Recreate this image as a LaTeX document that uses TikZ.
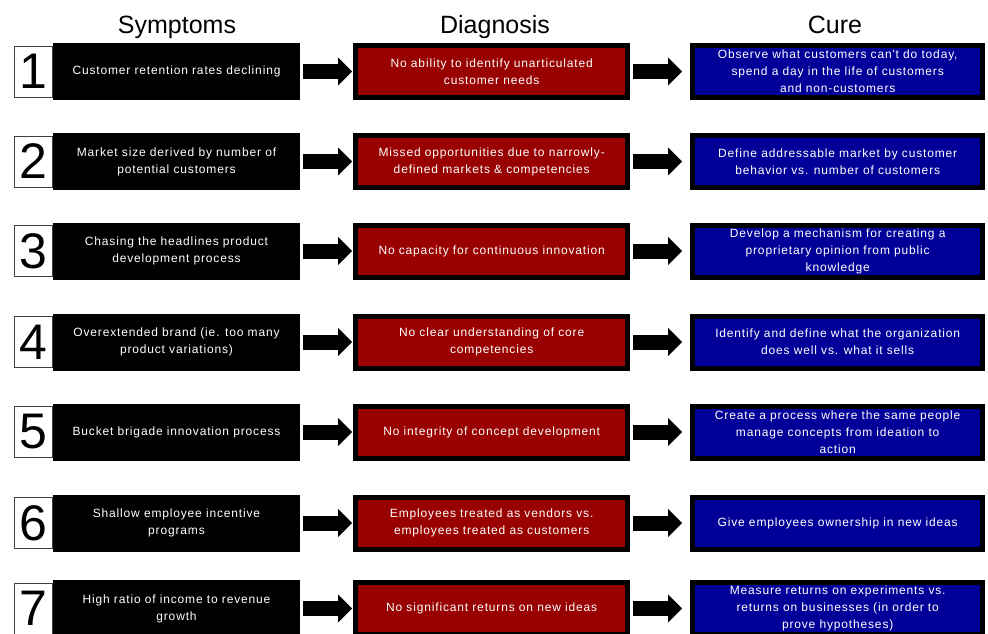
\documentclass[tikz,border=0pt]{standalone}
\usepackage{fontspec}
\setmainfont{Liberation Sans}
\newfontfamily\boxfont[LetterSpace=7]{Liberation Sans}
\usetikzlibrary{arrows.meta,positioning}
\definecolor{diared}{RGB}{153,0,0}
\definecolor{cureblue}{RGB}{0,0,153}
\tikzset{
  head/.style={anchor=base, font=\fontsize{25}{30}\selectfont},
  num/.style={draw=black!75, fill=white, line width=1pt, inner sep=0pt,
    minimum width=38pt, minimum height=51pt, font=\fontsize{50}{50}\selectfont},
  sympt/.style={fill=black, text=white, inner sep=0pt, align=center,
    minimum width=247pt, minimum height=57pt, font=\boxfont\fontsize{12}{17}\selectfont},
  diag/.style={draw=black, line width=5pt, fill=diared, text=white, inner sep=0pt,
    align=center, minimum width=272pt, minimum height=52pt, font=\boxfont\fontsize{12}{17}\selectfont},
  cure/.style={draw=black, line width=5pt, fill=cureblue, text=white, inner sep=0pt,
    align=center, minimum width=290pt, minimum height=52pt, font=\boxfont\fontsize{12}{17}\selectfont},
  go/.style={line width=15pt, -{Triangle[length=14pt,width=27pt]}, shorten <=3pt}
}
\begin{document}
\begin{tikzpicture}[x=1pt,y=-1pt]
\useasboundingbox (0,0) rectangle (988,633);
% column titles
\node[head] (hsym) at (177,33) {Symptoms};
\node[head] (hdia) at (495,33) {Diagnosis};
\node[head] (hcur) at (835,33) {Cure};

% row 1
\node[sympt] (s1) at (176.5,71.5) {Customer retention rates declining};
\node[num, left=0pt of s1] (n1) {1};
\node[diag, right=53pt of s1] (d1) {No ability to identify unarticulated\\customer needs};
\node[cure, right=60pt of d1] (c1) {Observe what customers can't do today,\\spend a day in the life of customers\\and non-customers};
\draw[go, shorten >=1pt] (s1) -- (d1);
\draw[go, shorten >=8pt] (d1) -- (c1);

% row 2
\node[sympt] (s2) at (176.5,161.5) {Market size derived by number of\\potential customers};
\node[num, left=0pt of s2] (n2) {2};
\node[diag, right=53pt of s2] (d2) {Missed opportunities due to narrowly-\\defined markets \& competencies};
\node[cure, right=60pt of d2] (c2) {Define addressable market by customer\\behavior vs. number of customers};
\draw[go, shorten >=1pt] (s2) -- (d2);
\draw[go, shorten >=8pt] (d2) -- (c2);

% row 3
\node[sympt] (s3) at (176.5,251) {Chasing the headlines product\\development process};
\node[num, left=0pt of s3] (n3) {3};
\node[diag, right=53pt of s3] (d3) {No capacity for continuous innovation};
\node[cure, right=60pt of d3] (c3) {Develop a mechanism for creating a\\proprietary opinion from public\\knowledge};
\draw[go, shorten >=1pt] (s3) -- (d3);
\draw[go, shorten >=8pt] (d3) -- (c3);

% row 4
\node[sympt] (s4) at (176.5,342) {Overextended brand (ie. too many\\product variations)};
\node[num, left=0pt of s4] (n4) {4};
\node[diag, right=53pt of s4] (d4) {No clear understanding of core\\competencies};
\node[cure, right=60pt of d4] (c4) {Identify and define what the organization\\does well vs. what it sells};
\draw[go, shorten >=1pt] (s4) -- (d4);
\draw[go, shorten >=8pt] (d4) -- (c4);

% row 5
\node[sympt] (s5) at (176.5,432) {Bucket brigade innovation process};
\node[num, left=0pt of s5] (n5) {5};
\node[diag, right=53pt of s5] (d5) {No integrity of concept development};
\node[cure, right=60pt of d5] (c5) {Create a process where the same people\\manage concepts from ideation to\\action};
\draw[go, shorten >=1pt] (s5) -- (d5);
\draw[go, shorten >=8pt] (d5) -- (c5);

% row 6
\node[sympt] (s6) at (176.5,523) {Shallow employee incentive\\programs};
\node[num, left=0pt of s6] (n6) {6};
\node[diag, right=53pt of s6] (d6) {Employees treated as vendors vs.\\employees treated as customers};
\node[cure, right=60pt of d6] (c6) {Give employees ownership in new ideas};
\draw[go, shorten >=1pt] (s6) -- (d6);
\draw[go, shorten >=8pt] (d6) -- (c6);

% row 7
\node[sympt] (s7) at (176.5,608.5) {High ratio of income to revenue\\growth};
\node[num, left=0pt of s7] (n7) {7};
\node[diag, right=53pt of s7] (d7) {No significant returns on new ideas};
\node[cure, right=60pt of d7] (c7) {Measure returns on experiments vs.\\returns on businesses (in order to\\prove hypotheses)};
\draw[go, shorten >=1pt] (s7) -- (d7);
\draw[go, shorten >=8pt] (d7) -- (c7);
\end{tikzpicture}
\end{document}
